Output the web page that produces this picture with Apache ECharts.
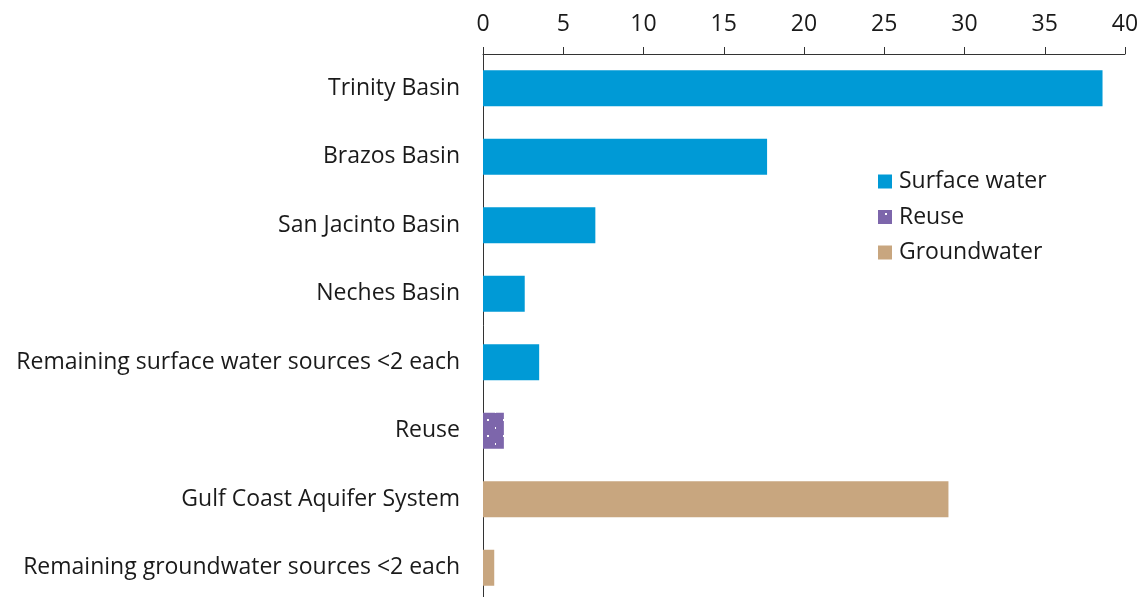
<!DOCTYPE html>
<html>
<head>
<meta charset="utf-8">
<script src="https://cdn.jsdelivr.net/npm/echarts@6/dist/echarts.min.js"></script>
<style>
  html, body { margin: 0; padding: 0; background: #fff; }
  #chart { width: 1140px; height: 597px; }
</style>
</head>
<body>
<div id="chart"></div>
<script>
// Water supply sources
const categories = [
  'Trinity Basin',
  'Brazos Basin',
  'San Jacinto Basin',
  'Neches Basin',
  'Remaining surface water sources <2 each',
  'Reuse',
  'Gulf Coast Aquifer System',
  'Remaining groundwater sources <2 each'
];
const surfaceWater = [38.6, 17.7, 7.0, 2.6, 3.5, null, null, null];
const reuse        = [null, null, null, null, null, 1.3, null, null];
const groundwater  = [null, null, null, null, null, null, 29.0, 0.7];
const xTicks = { min: 0, max: 40, interval: 5 };

const FONT = '"Open Sans", Lato, sans-serif';
const FS = 23;

// Dotted purple fill for the reuse bar
function dotPattern() {
  const c = document.createElement('canvas');
  c.width = 16; c.height = 16;
  const g = c.getContext('2d');
  g.fillStyle = '#7d66ab';
  g.fillRect(0, 0, 16, 16);
  g.fillStyle = '#ffffff';
  g.fillRect(7, 3, 2, 2);
  g.fillRect(15, 11, 2, 2);
  return c;
}

const chart = echarts.init(document.getElementById('chart'), null, { renderer: 'canvas' });

const barBase = { type: 'bar', stack: 'total', barWidth: 36 };

chart.setOption({
  animation: false,
  backgroundColor: '#ffffff',
  grid: { left: 483, right: 15, top: 54, height: 548, containLabel: false, outerBoundsMode: 'none' },
  legend: {
    orient: 'vertical',
    left: 873,
    top: 165,
    itemWidth: 14,
    itemHeight: 14,
    itemGap: 12.5,
    icon: 'rect',
    textStyle: { fontFamily: FONT, fontSize: FS, color: '#1a1a1a', padding: [0, 0, 0, 2] },
    data: ['Surface water', 'Reuse', 'Groundwater']
  },
  xAxis: {
    type: 'value',
    position: 'top',
    min: xTicks.min,
    max: xTicks.max,
    interval: xTicks.interval,
    axisLine: { show: true, lineStyle: { color: '#333', width: 1 } },
    axisTick: { show: true, length: 7, lineStyle: { color: '#333' } },
    splitLine: { show: false },
    axisLabel: { fontFamily: FONT, fontSize: FS, color: '#1a1a1a', margin: 18 }
  },
  yAxis: {
    type: 'category',
    inverse: true,
    data: categories,
    axisLine: { show: true, lineStyle: { color: '#333', width: 1 } },
    axisTick: { show: false },
    axisLabel: { fontFamily: FONT, fontSize: FS, color: '#1a1a1a', margin: 23 }
  },
  series: [
    Object.assign({}, barBase, { name: 'Surface water', data: surfaceWater, itemStyle: { color: '#009ad6' } }),
    Object.assign({}, barBase, { name: 'Reuse', data: reuse, itemStyle: { color: { image: dotPattern(), repeat: 'repeat' } } }),
    Object.assign({}, barBase, { name: 'Groundwater', data: groundwater, itemStyle: { color: '#c8a67f' } })
  ]
});
</script>
</body>
</html>
